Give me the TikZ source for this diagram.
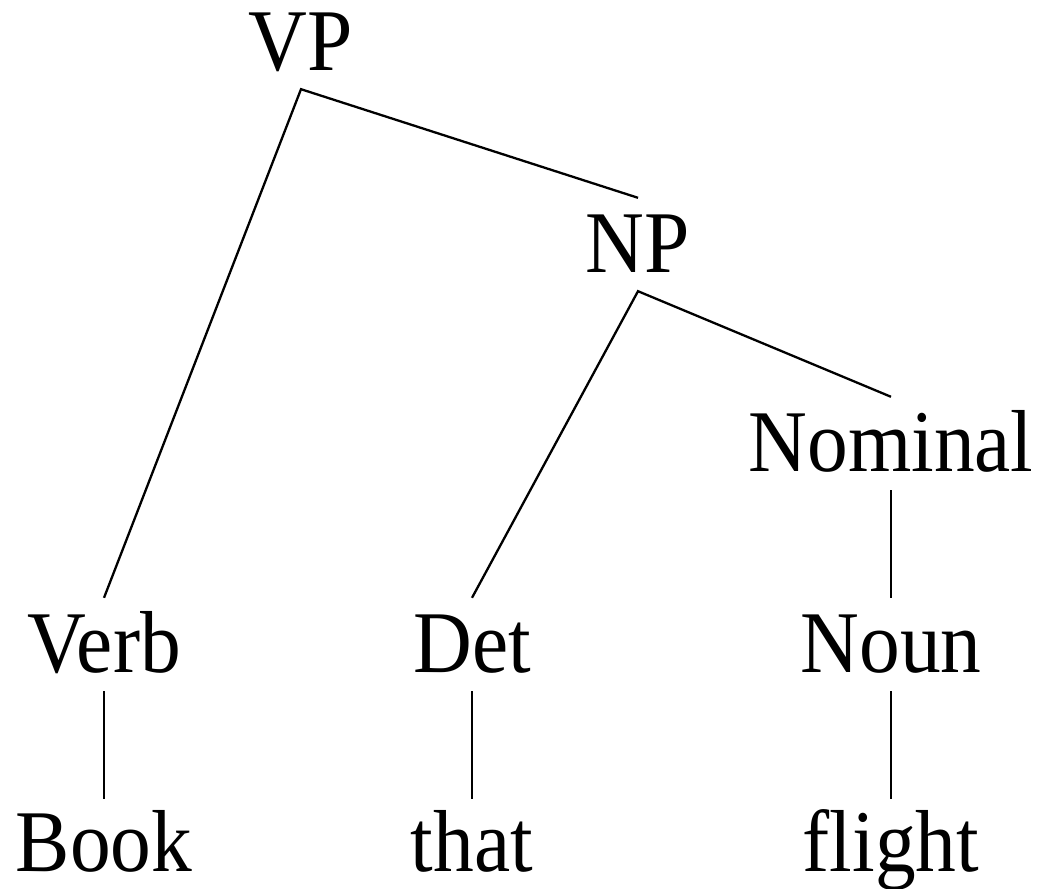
\documentclass[tikz,border=0pt]{standalone}
\usepackage{fontspec}
\setmainfont{Liberation Serif}[FakeStretch=0.925]
\begin{document}
\begin{tikzpicture}[x=1pt,y=-1pt,
  lbl/.style={anchor=base, inner xsep=0pt, inner ysep=0pt, text height=74pt, text depth=19pt,
    font=\fontsize{88}{100}\selectfont},
  leaf/.style={lbl, text depth=16pt},
  edge/.style={line width=2.3pt, line cap=butt, line join=miter}]
\useasboundingbox (0,0) rectangle (1037,889);
\node[lbl] (VP) at (301,70) {VP};
\node[lbl] (NP) at (638,272) {NP};
\node[lbl] (Nom) at (891,471) {Nominal};
\node[lbl] (Verb) at (104,672) {Verb};
\node[lbl] (Det) at (472,672) {Det};
\node[lbl] (Noun) at (891,672) {Noun};
\node[leaf] (Book) at (104,871) {Book};
\node[leaf] (that) at (472,871) {that};
\node[leaf] (flight) at (891,871) {flight};
\draw[edge] (Verb.north) -- (VP.south) -- (NP.north);
\draw[edge] (Det.north) -- (NP.south) -- (Nom.north);
\draw[edge] (Nom.south) -- (Noun.north);
\draw[edge] (Verb.south) -- ([yshift=-2pt]Book.north);
\draw[edge] (Det.south) -- ([yshift=-2pt]that.north);
\draw[edge] (Noun.south) -- ([yshift=-2pt]flight.north);
\end{tikzpicture}
\end{document}
